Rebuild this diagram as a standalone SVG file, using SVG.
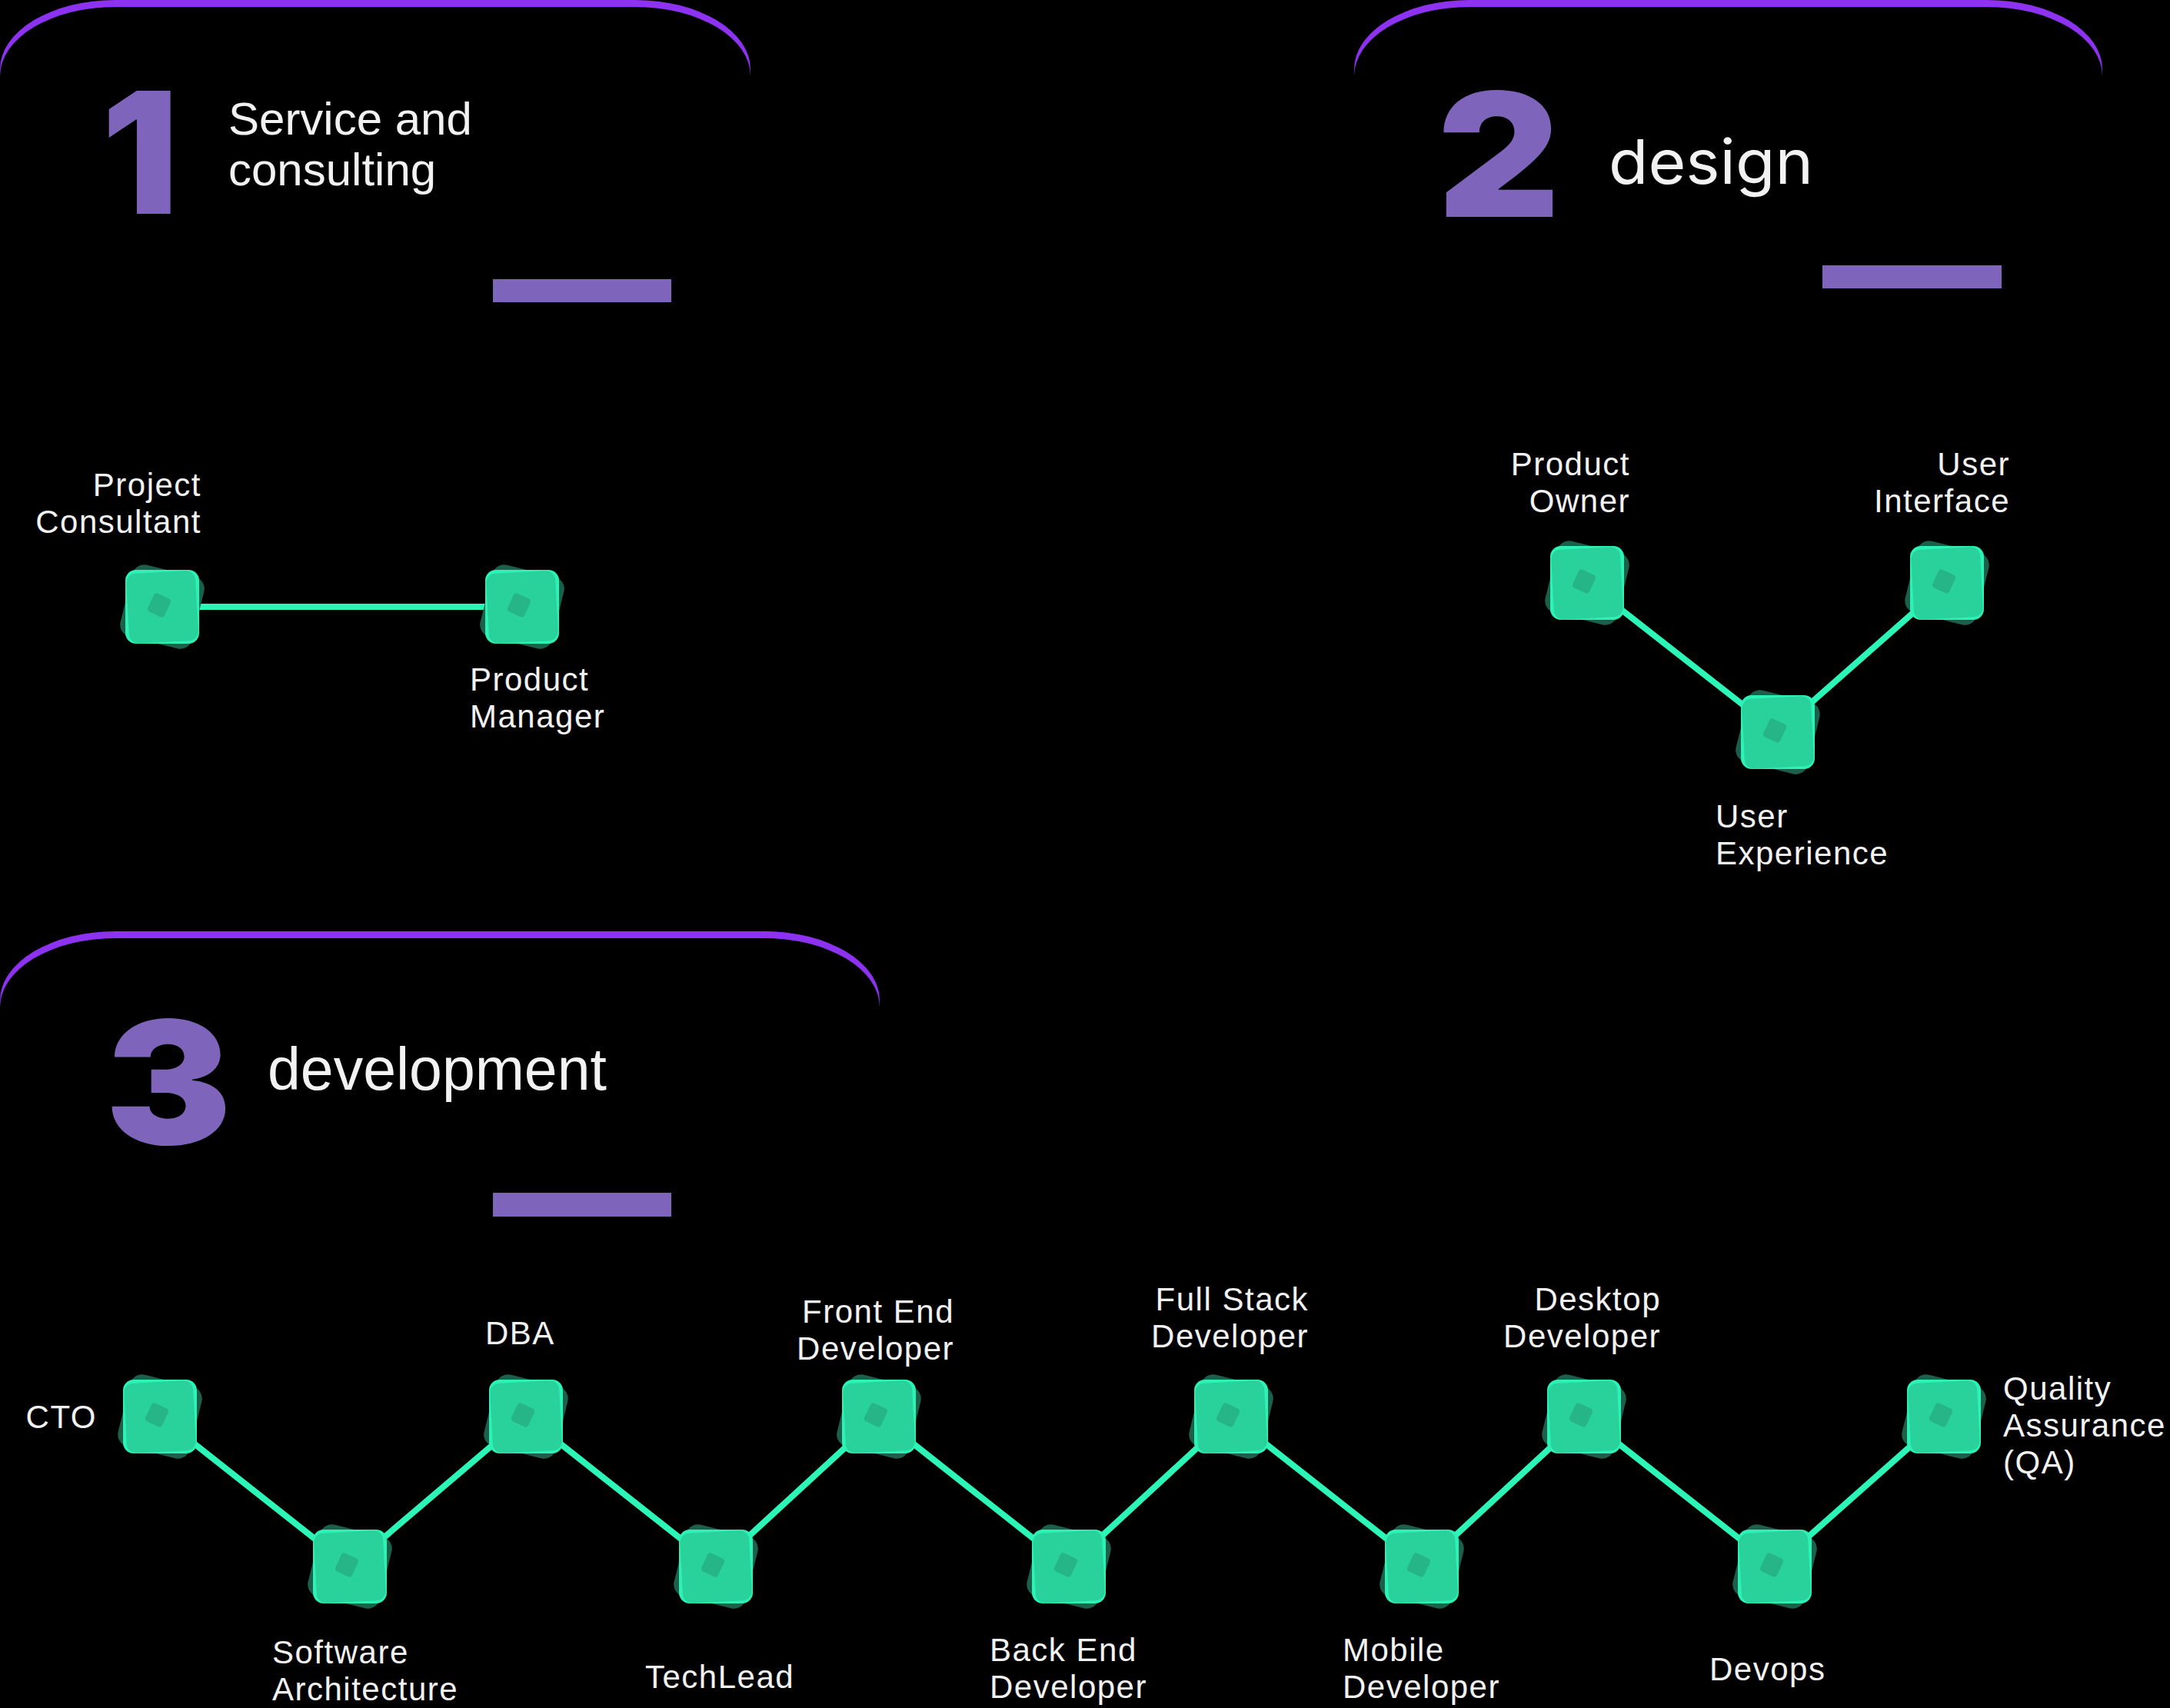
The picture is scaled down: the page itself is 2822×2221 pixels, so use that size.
<svg xmlns="http://www.w3.org/2000/svg" xmlns:xlink="http://www.w3.org/1999/xlink" width="2822" height="2221" viewBox="0 0 2822 2221">
<style>
.bg{fill:#000}
.arc{fill:#8C32F0}
.card{fill:#000}
.num{font-family:"Inter","Roboto","Liberation Sans",sans-serif;font-weight:900;fill:#7E65BB}
.title{font-family:"Liberation Sans",Arial,sans-serif;fill:#F2F2F2}
.design{font-family:"Inter","Open Sans",sans-serif;fill:#F2F2F2}
.bar{fill:#7E65BB}
.lbl{font-family:"Liberation Sans",Arial,sans-serif;font-size:42px;letter-spacing:1.5px;fill:#F2F2F2}
.end{text-anchor:end}
.link{stroke:#2CF5B8;stroke-width:8;fill:none;stroke-linecap:round;stroke-linejoin:round}
</style>
<defs>
<g id="node">
<rect x="-48" y="-48" width="96" height="96" rx="16" fill="#1C5F4A" transform="rotate(14)"/>
<rect x="-48" y="-48" width="96" height="96" rx="14" fill="#2DF2B6"/>
<rect x="-45" y="-45" width="90" height="91" rx="12" fill="#2AD29B" transform="rotate(-3)"/>
<rect x="-12" y="-13" width="24" height="26" rx="4" fill="#26B587" transform="translate(-4 -2) rotate(25)"/>
</g>
</defs>
<rect class="bg" x="0" y="0" width="2822" height="2221"/>

<g id="panel-1">
<rect class="arc" x="0" y="0" width="976" height="600" rx="150" ry="90"/>
<rect class="card" x="0" y="9" width="976" height="600" rx="150" ry="90"/>
<text class="num" x="182" y="278" font-size="220" text-anchor="middle" textLength="100" lengthAdjust="spacingAndGlyphs">1</text>
<text class="title" font-size="60"><tspan x="297" y="175">Service and</tspan><tspan x="297" y="241">consulting</tspan></text>
<rect class="bar" x="641" y="363" width="232" height="30"/>
</g>

<g id="panel-2">
<rect class="arc" x="1761" y="0" width="973" height="600" rx="150" ry="90"/>
<rect class="card" x="1761" y="9" width="973" height="600" rx="150" ry="90"/>
<text class="num" x="1949" y="282" font-size="224" text-anchor="middle" textLength="160" lengthAdjust="spacingAndGlyphs">2</text>
<text class="design" x="2092" y="239" font-size="80" textLength="266" lengthAdjust="spacingAndGlyphs">design</text>
<rect class="bar" x="2370" y="345" width="233" height="30"/>
</g>

<g id="panel-3">
<rect class="arc" x="0" y="1211" width="1144" height="600" rx="150" ry="90"/>
<rect class="card" x="0" y="1220" width="1144" height="600" rx="150" ry="90"/>
<text class="num" x="219" y="1488" font-size="222" text-anchor="middle" textLength="165" lengthAdjust="spacingAndGlyphs">3</text>
<text class="title" x="348" y="1417" font-size="77">development</text>
<rect class="bar" x="641" y="1551" width="232" height="31"/>
</g>

<g id="connectors">
<polyline class="link" points="211,789 679,789"/>
<polyline class="link" points="2064,758 2312,952 2532,758"/>
<polyline class="link" points="208,1842 455,2037 684,1842 931,2037 1143,1842 1390,2037 1601,1842 1849,2037 2060,1842 2308,2037 2528,1842"/>
</g>

<g id="node-project-consultant"><use xlink:href="#node" x="211" y="789"/><text class="lbl end"><tspan x="262" y="645">Project</tspan><tspan x="262" y="693">Consultant</tspan></text></g>
<g id="node-product-manager"><use xlink:href="#node" x="679" y="789"/><text class="lbl"><tspan x="611" y="898">Product</tspan><tspan x="611" y="946">Manager</tspan></text></g>

<g id="node-product-owner"><use xlink:href="#node" x="2064" y="758"/><text class="lbl end"><tspan x="2120" y="618">Product</tspan><tspan x="2120" y="666">Owner</tspan></text></g>
<g id="node-user-experience"><use xlink:href="#node" x="2312" y="952"/><text class="lbl"><tspan x="2231" y="1076">User</tspan><tspan x="2231" y="1124">Experience</tspan></text></g>
<g id="node-user-interface"><use xlink:href="#node" x="2532" y="758"/><text class="lbl end"><tspan x="2614" y="618">User</tspan><tspan x="2614" y="666">Interface</tspan></text></g>

<g id="node-cto"><use xlink:href="#node" x="208" y="1842"/><text class="lbl end" x="126" y="1857">CTO</text></g>
<g id="node-software-architecture"><use xlink:href="#node" x="455" y="2037"/><text class="lbl"><tspan x="354" y="2163">Software</tspan><tspan x="354" y="2211">Architecture</tspan></text></g>
<g id="node-dba"><use xlink:href="#node" x="684" y="1842"/><text class="lbl" x="631" y="1748">DBA</text></g>
<g id="node-techlead"><use xlink:href="#node" x="931" y="2037"/><text class="lbl" x="839" y="2195">TechLead</text></g>
<g id="node-front-end"><use xlink:href="#node" x="1143" y="1842"/><text class="lbl end"><tspan x="1241" y="1720">Front End</tspan><tspan x="1241" y="1768">Developer</tspan></text></g>
<g id="node-back-end"><use xlink:href="#node" x="1390" y="2037"/><text class="lbl"><tspan x="1287" y="2160">Back End</tspan><tspan x="1287" y="2208">Developer</tspan></text></g>
<g id="node-full-stack"><use xlink:href="#node" x="1601" y="1842"/><text class="lbl end"><tspan x="1702" y="1704">Full Stack</tspan><tspan x="1702" y="1752">Developer</tspan></text></g>
<g id="node-mobile"><use xlink:href="#node" x="1849" y="2037"/><text class="lbl"><tspan x="1746" y="2160">Mobile</tspan><tspan x="1746" y="2208">Developer</tspan></text></g>
<g id="node-desktop"><use xlink:href="#node" x="2060" y="1842"/><text class="lbl end"><tspan x="2160" y="1704">Desktop</tspan><tspan x="2160" y="1752">Developer</tspan></text></g>
<g id="node-devops"><use xlink:href="#node" x="2308" y="2037"/><text class="lbl" x="2223" y="2185">Devops</text></g>
<g id="node-qa"><use xlink:href="#node" x="2528" y="1842"/><text class="lbl"><tspan x="2605" y="1820">Quality</tspan><tspan x="2605" y="1868">Assurance</tspan><tspan x="2605" y="1916">(QA)</tspan></text></g>
</svg>
